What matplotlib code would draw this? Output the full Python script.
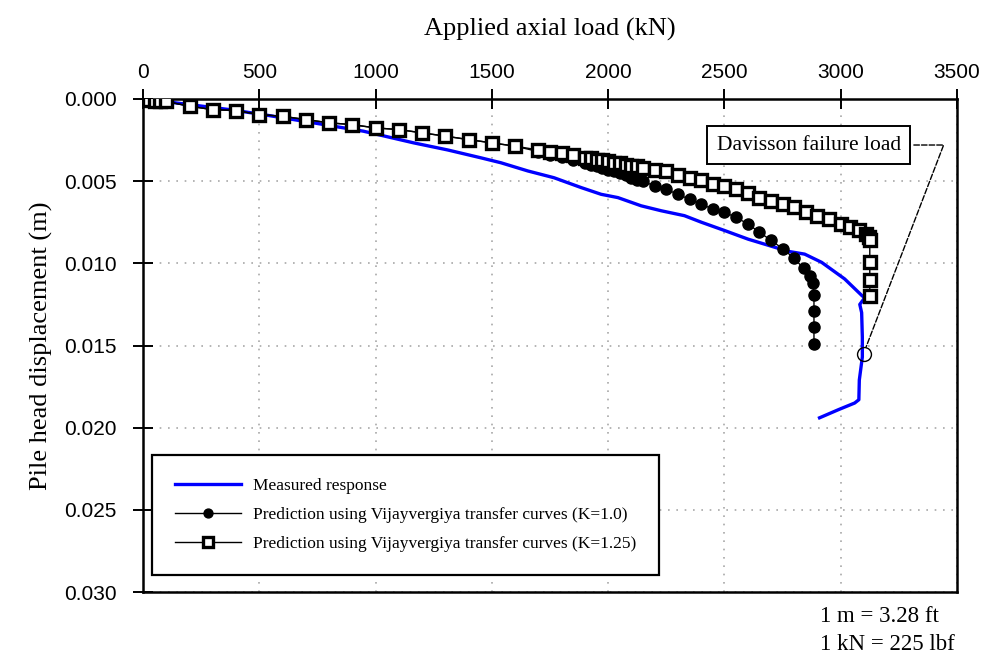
import matplotlib
matplotlib.use('Agg')
import matplotlib.pyplot as plt
from matplotlib.ticker import FormatStrFormatter

# measured load-settlement response
meas_load = [0, 86, 375, 517, 733, 948, 1164, 1310, 1453, 1539, 1655, 1767, 1884, 1970,
             2042, 2142, 2228, 2328, 2401, 2500, 2602, 2672, 2774, 2845, 2918, 3017, 3091,
             3103, 3082, 3090, 3093, 3093, 3080, 3078, 3060, 2991, 2909]
meas_disp = [0, 0.00014, 0.00065, 0.00095, 0.00145, 0.00196, 0.00267, 0.0031, 0.00358,
             0.00388, 0.00438, 0.00479, 0.00539, 0.0058, 0.0060, 0.0065, 0.0068, 0.0071,
             0.0075, 0.0080, 0.00853, 0.00883, 0.00927, 0.00944, 0.00994, 0.01095, 0.01196,
             0.0121, 0.0125, 0.0130, 0.0145, 0.0157, 0.0171, 0.0183, 0.0185, 0.0189, 0.0194]

# prediction K = 1.0
k10_load = [0, 25, 50, 75, 100, 200, 300, 400, 500, 600, 700, 800, 900, 1000, 1100, 1200,
            1300, 1400, 1500, 1600, 1700, 1750, 1800, 1850, 1900, 1925, 1950, 1975, 2000,
            2025, 2050, 2075, 2100, 2125, 2150, 2200, 2250, 2300, 2350, 2400, 2450, 2500,
            2550, 2600, 2650, 2700, 2750, 2800, 2840, 2870, 2880, 2885, 2885, 2885, 2885]
k10_disp = [0, 0.00005, 0.0001, 0.00012, 0.00015, 0.00044, 0.00065, 0.0007, 0.00095,
            0.00105, 0.00125, 0.00145, 0.00156, 0.00176, 0.00186, 0.00206, 0.00226, 0.00247,
            0.00267, 0.00287, 0.0032, 0.0034, 0.0035, 0.0037, 0.0039, 0.0040, 0.0041, 0.0042,
            0.0043, 0.0044, 0.0045, 0.0046, 0.0048, 0.0049, 0.0050, 0.0053, 0.0055, 0.0058,
            0.0061, 0.0064, 0.0067, 0.0069, 0.0072, 0.0076, 0.0081, 0.0086, 0.0091, 0.0097,
            0.0103, 0.0108, 0.0112, 0.0119, 0.0129, 0.0139, 0.0149]

# prediction K = 1.25
k125_load = [0, 25, 50, 75, 100, 200, 300, 400, 500, 600, 700, 800, 900, 1000, 1100, 1200,
             1300, 1400, 1500, 1600, 1700, 1750, 1800, 1850, 1900, 1925, 1950, 1975, 2000,
             2025, 2050, 2075, 2100, 2125, 2150, 2200, 2250, 2300, 2350, 2400, 2450, 2500,
             2550, 2600, 2650, 2700, 2750, 2800, 2850, 2900, 2950, 3000, 3040, 3080, 3110,
             3120, 3125, 3125, 3125, 3125]
k125_disp = [0, 0.00005, 0.0001, 0.00012, 0.00015, 0.00044, 0.00065, 0.0007, 0.00095,
             0.00105, 0.00125, 0.00145, 0.00156, 0.00176, 0.00186, 0.00206, 0.00226, 0.00247,
             0.00267, 0.00287, 0.0031, 0.0032, 0.0033, 0.0034, 0.0036, 0.0036, 0.0037, 0.0037,
             0.0038, 0.0039, 0.0039, 0.0040, 0.0041, 0.0041, 0.0042, 0.0043, 0.0044, 0.0046,
             0.0048, 0.0049, 0.0052, 0.0053, 0.0055, 0.0057, 0.0060, 0.0062, 0.0064, 0.0066,
             0.0069, 0.0071, 0.0073, 0.0076, 0.0078, 0.0080, 0.0082, 0.0084, 0.0086, 0.0099,
             0.0110, 0.0120]

davisson_load = 3098
davisson_disp = 0.0155

xticks = [0, 500, 1000, 1500, 2000, 2500, 3000, 3500]
yticks = [0.000, 0.005, 0.010, 0.015, 0.020, 0.025, 0.030]

serif = ['Liberation Serif', 'DejaVu Serif']
sans = ['Liberation Sans Narrow', 'Liberation Sans', 'DejaVu Sans']
plt.rcParams['font.family'] = serif

fig = plt.figure(figsize=(9.86, 6.56), dpi=100)
ax = fig.add_axes([143/986, 1-592/656, 814/986, 493/656])

ax.plot(meas_load, meas_disp, color='#0000ff', lw=2.4, label='Measured response', zorder=3)
ax.plot(k10_load, k10_disp, color='black', lw=1, marker='o', ms=8, mfc='black', mec='black',
        label='Prediction using Vijayvergiya transfer curves (K=1.0)', zorder=4)
ax.plot(k125_load, k125_disp, color='black', lw=1, marker='s', ms=8.5, mfc='white', mec='black',
        mew=2.4, label='Prediction using Vijayvergiya transfer curves (K=1.25)', zorder=4)

ax.plot([davisson_load], [davisson_disp], marker='o', ms=10, mfc='none', mec='black', mew=1,
        zorder=5)
ax.annotate('Davisson failure load', xy=(davisson_load, davisson_disp), xytext=(2862, 0.0028),
            ha='center', va='center', fontsize=15.5,
            bbox=dict(boxstyle='square,pad=0.45', fc='white', ec='black', lw=1.4),
            arrowprops=dict(arrowstyle='-', color='black', lw=1, linestyle=(0, (4, 1.5)),
                            connectionstyle='angle,angleA=0,angleB=69,rad=0', shrinkB=5))

ax.set_xlim(0, 3500)
ax.set_ylim(0.030, 0)
ax.set_xticks(xticks)
ax.set_yticks(yticks)
ax.yaxis.set_major_formatter(FormatStrFormatter('%.3f'))
ax.xaxis.tick_top()
ax.xaxis.set_label_position('top')
ax.tick_params(direction='inout', length=14, width=1.4, labelsize=15, color='black')
ax.tick_params(axis='x', pad=5)
ax.tick_params(axis='y', pad=12)
for lab in ax.get_xticklabels() + ax.get_yticklabels():
    lab.set_family(sans)

ax.grid(True, color='#a8a8a8', linestyle=(0, (1, 4)), lw=1.2)
for s in ax.spines.values():
    s.set_linewidth(1.8)
    s.set_color('black')

ax.set_xlabel('Applied axial load (kN)', fontsize=19, labelpad=20)
ax.set_ylabel('Pile head displacement (m)', fontsize=19, labelpad=8)

leg = ax.legend(loc='lower left', bbox_to_anchor=(9/814, 17/493), borderaxespad=0,
                fontsize=12.5, frameon=True, fancybox=False, framealpha=1, edgecolor='black',
                handlelength=3.8, handletextpad=0.7, labelspacing=0.75, borderpad=1.3,
                markerscale=0.8)
leg.get_frame().set_linewidth(1.6)

fig.text(820/986, 1-617/656, '1 m = 3.28 ft', fontsize=16.5, va='center', ha='left')
fig.text(820/986, 1-645/656, '1 kN = 225 lbf', fontsize=16.5, va='center', ha='left')

fig.savefig('out.png', dpi=100)
